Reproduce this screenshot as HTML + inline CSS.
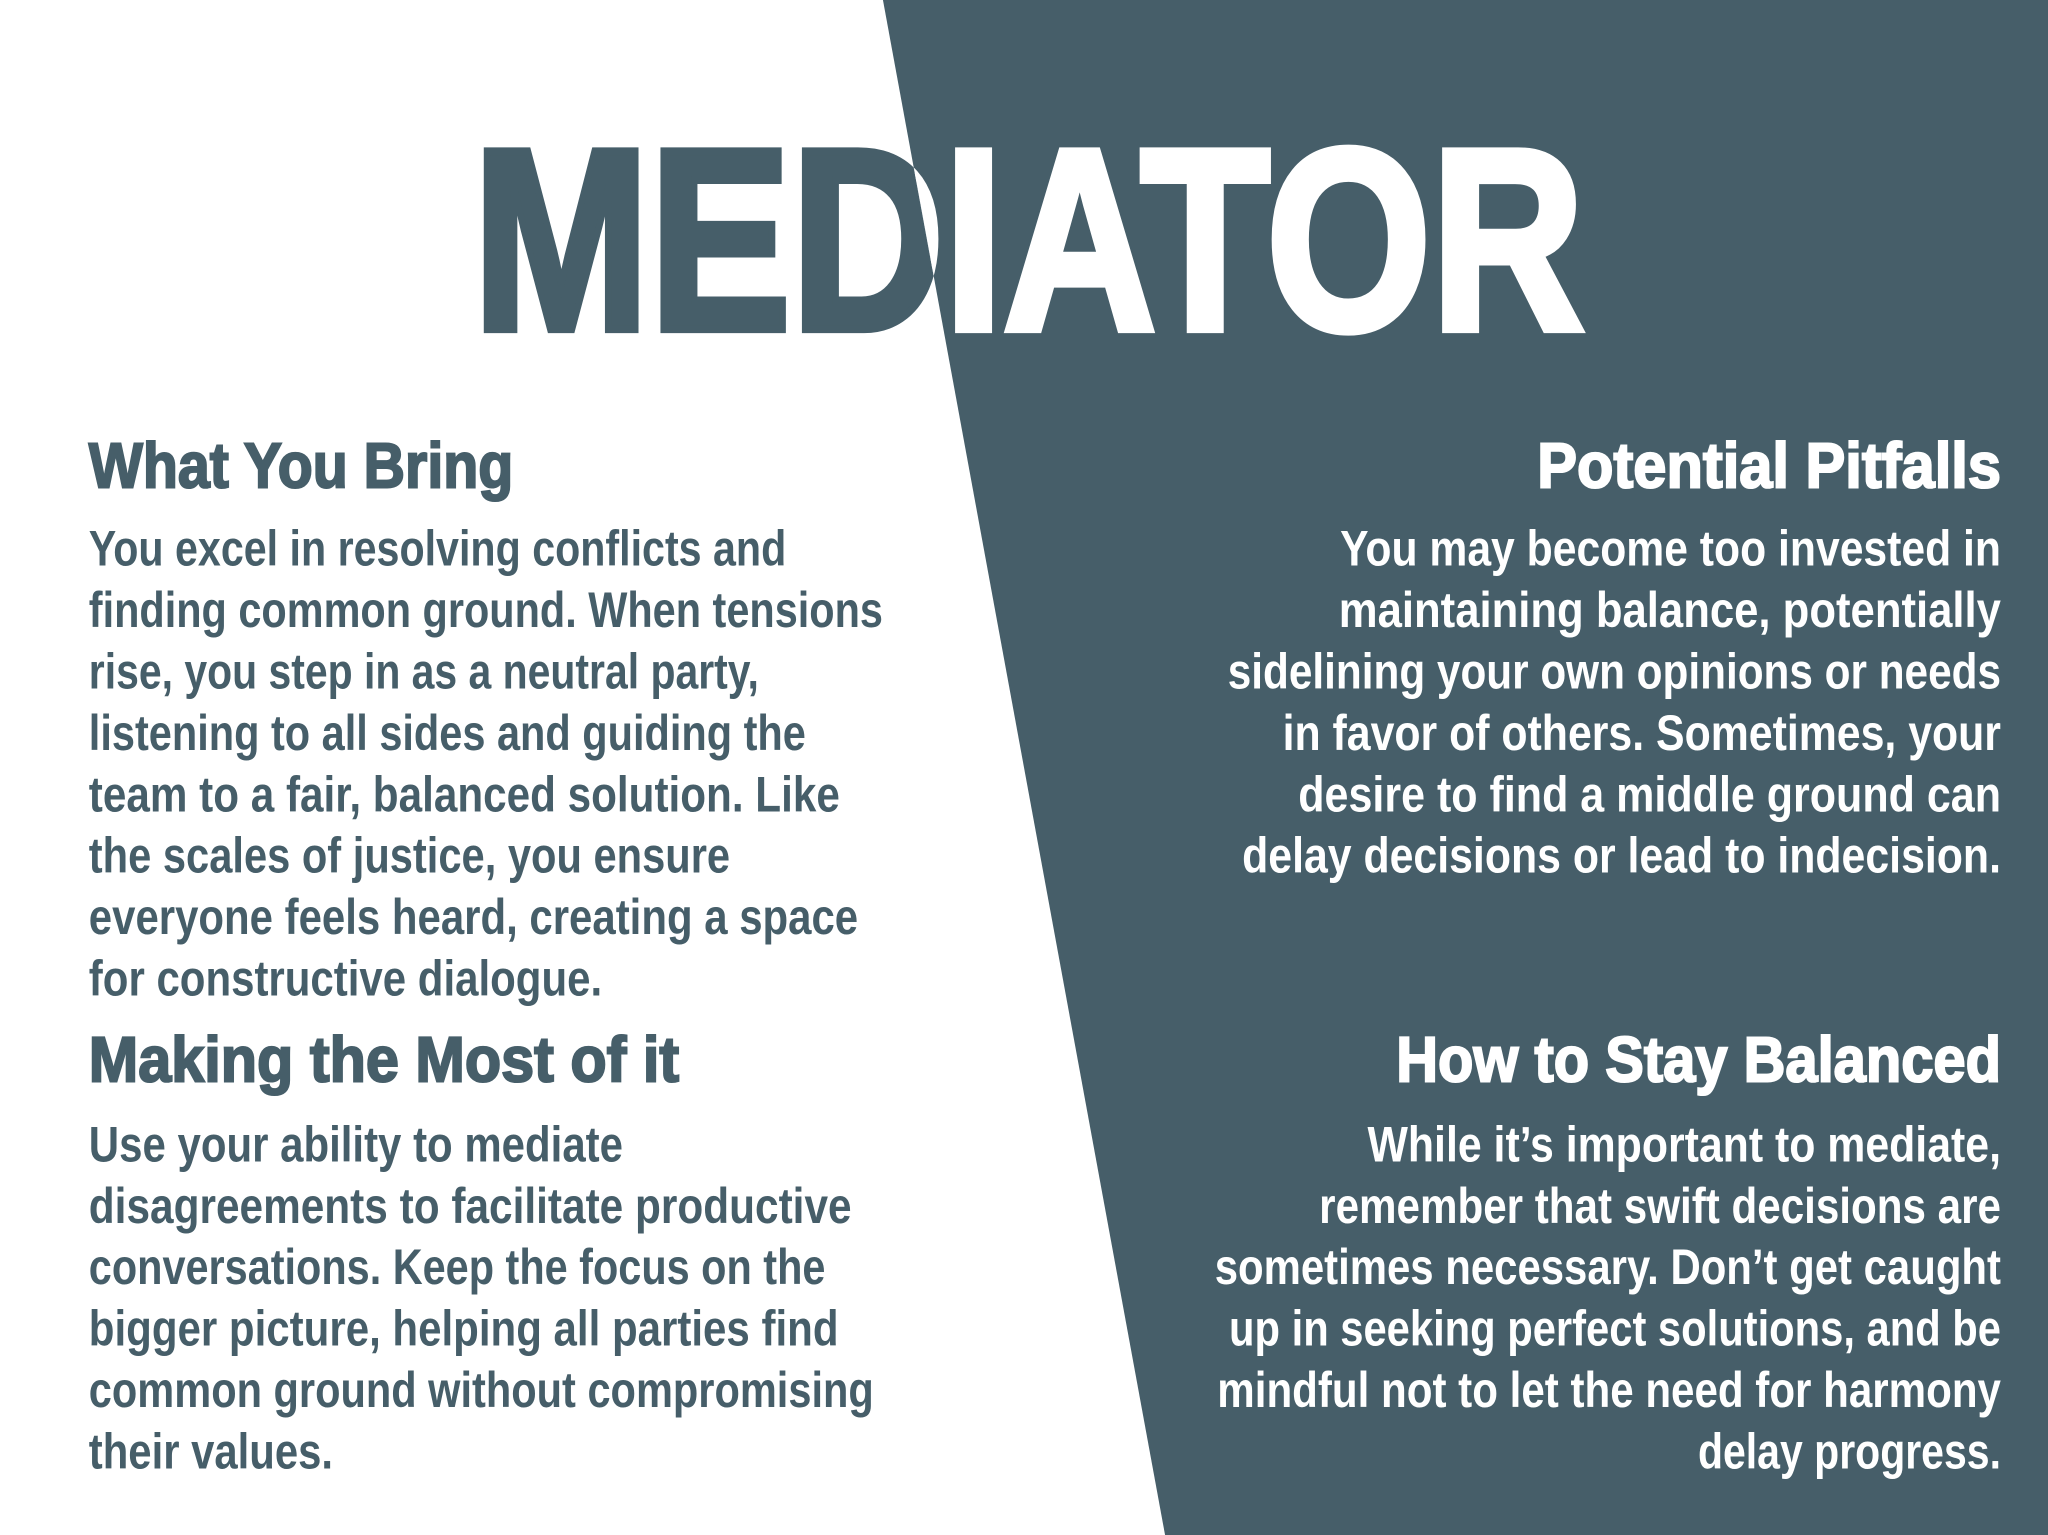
<!DOCTYPE html>
<html><head><meta charset="utf-8"><style>
html,body{margin:0;padding:0;background:#fff;}
svg{display:block;}
text{font-family:"Liberation Sans Narrow","Liberation Sans",sans-serif;font-weight:bold;}
.b{font-size:38px;}
.h{font-size:49px;stroke-width:1.6px;}
.dk .h{stroke:#465e69;}
.wt .h{stroke:#fff;}
</style></head><body>
<svg width="2048" height="1535" viewBox="0 0 1568 1175" preserveAspectRatio="none">
<defs>
<clipPath id="darkClip"><polygon points="676,0 1568,0 1568,1175 892,1175"/></clipPath>
<clipPath id="lightClip"><polygon points="0,0 676,0 892,1175 0,1175"/></clipPath>
</defs>
<rect x="0" y="0" width="1568" height="1175" fill="#fff"/>
<polygon points="676,0 1568,0 1568,1175 892,1175" fill="#465e69"/>
<g>
<text x="362" y="252" font-size="198" textLength="851" lengthAdjust="spacingAndGlyphs" fill="#465e69" stroke="#465e69" stroke-width="6" clip-path="url(#lightClip)">MEDIATOR</text>
<text x="362" y="252" font-size="198" textLength="851" lengthAdjust="spacingAndGlyphs" fill="#fff" stroke="#fff" stroke-width="6" clip-path="url(#darkClip)">MEDIATOR</text>
</g>
<g class="dk" fill="#465e69">
<text class="h" x="68" y="373" textLength="325" lengthAdjust="spacingAndGlyphs">What You Bring</text>
<g>
<text class="b" x="68" y="433" textLength="534" lengthAdjust="spacingAndGlyphs">You excel in resolving conflicts and</text>
<text class="b" x="68" y="480" textLength="608" lengthAdjust="spacingAndGlyphs">finding common ground. When tensions</text>
<text class="b" x="68" y="527" textLength="513" lengthAdjust="spacingAndGlyphs">rise, you step in as a neutral party,</text>
<text class="b" x="68" y="574" textLength="549" lengthAdjust="spacingAndGlyphs">listening to all sides and guiding the</text>
<text class="b" x="68" y="621" textLength="575" lengthAdjust="spacingAndGlyphs">team to a fair, balanced solution. Like</text>
<text class="b" x="68" y="668" textLength="491" lengthAdjust="spacingAndGlyphs">the scales of justice, you ensure</text>
<text class="b" x="68" y="715" textLength="589" lengthAdjust="spacingAndGlyphs">everyone feels heard, creating a space</text>
<text class="b" x="68" y="762" textLength="393" lengthAdjust="spacingAndGlyphs">for constructive dialogue.</text>
</g>
<text class="h" x="68" y="828" textLength="452" lengthAdjust="spacingAndGlyphs">Making the Most of it</text>
<g>
<text class="b" x="68" y="889" textLength="409" lengthAdjust="spacingAndGlyphs">Use your ability to mediate</text>
<text class="b" x="68" y="936" textLength="584" lengthAdjust="spacingAndGlyphs">disagreements to facilitate productive</text>
<text class="b" x="68" y="983" textLength="564" lengthAdjust="spacingAndGlyphs">conversations. Keep the focus on the</text>
<text class="b" x="68" y="1030" textLength="574" lengthAdjust="spacingAndGlyphs">bigger picture, helping all parties find</text>
<text class="b" x="68" y="1077" textLength="601" lengthAdjust="spacingAndGlyphs">common ground without compromising</text>
<text class="b" x="68" y="1124" textLength="187" lengthAdjust="spacingAndGlyphs">their values.</text>
</g>
</g>
<g class="wt" fill="#fff">
<text class="h" x="1177" y="373" textLength="355" lengthAdjust="spacingAndGlyphs">Potential Pitfalls</text>
<g>
<text class="b" x="1026" y="433" textLength="506" lengthAdjust="spacingAndGlyphs">You may become too invested in</text>
<text class="b" x="1025" y="480" textLength="507" lengthAdjust="spacingAndGlyphs">maintaining balance, potentially</text>
<text class="b" x="940" y="527" textLength="592" lengthAdjust="spacingAndGlyphs">sidelining your own opinions or needs</text>
<text class="b" x="982" y="574" textLength="550" lengthAdjust="spacingAndGlyphs">in favor of others. Sometimes, your</text>
<text class="b" x="994" y="621" textLength="538" lengthAdjust="spacingAndGlyphs">desire to find a middle ground can</text>
<text class="b" x="951" y="668" textLength="581" lengthAdjust="spacingAndGlyphs">delay decisions or lead to indecision.</text>
</g>
<text class="h" x="1069" y="828" textLength="463" lengthAdjust="spacingAndGlyphs">How to Stay Balanced</text>
<g>
<text class="b" x="1047" y="889" textLength="485" lengthAdjust="spacingAndGlyphs">While it’s important to mediate,</text>
<text class="b" x="1010" y="936" textLength="522" lengthAdjust="spacingAndGlyphs">remember that swift decisions are</text>
<text class="b" x="930" y="983" textLength="602" lengthAdjust="spacingAndGlyphs">sometimes necessary. Don’t get caught</text>
<text class="b" x="941" y="1030" textLength="591" lengthAdjust="spacingAndGlyphs">up in seeking perfect solutions, and be</text>
<text class="b" x="932" y="1077" textLength="600" lengthAdjust="spacingAndGlyphs">mindful not to let the need for harmony</text>
<text class="b" x="1300" y="1124" textLength="232" lengthAdjust="spacingAndGlyphs">delay progress.</text>
</g>
</g>
</svg>
</body></html>
